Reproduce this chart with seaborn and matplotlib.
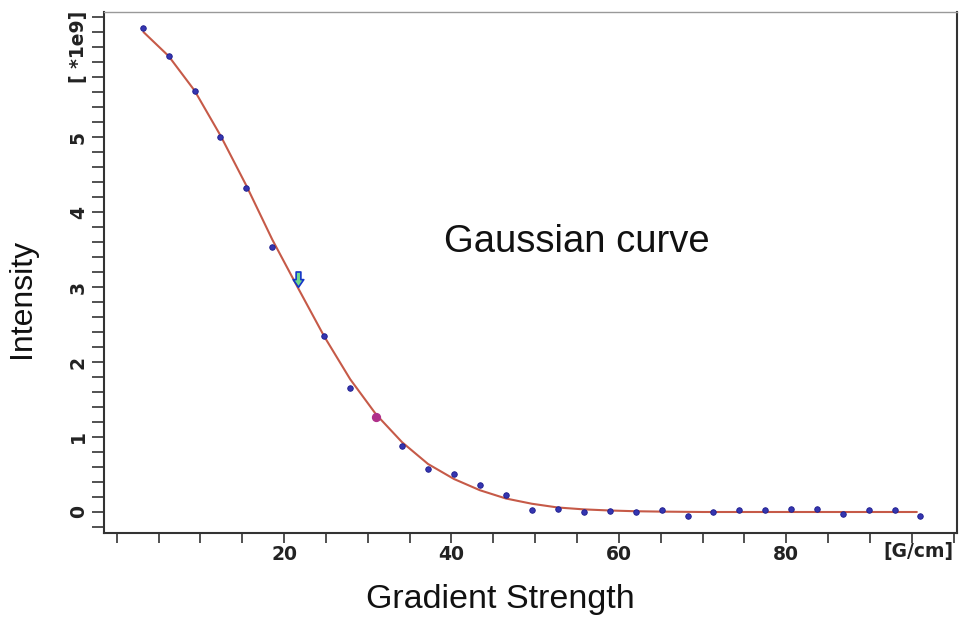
import numpy as np
import pandas as pd
import matplotlib
matplotlib.use("Agg")
import matplotlib.pyplot as plt
from matplotlib.path import Path
import seaborn as sns

# ---- data ----
gradient = [3.1, 6.2, 9.3, 12.4, 15.5, 18.6, 21.7, 24.8, 27.9, 31.0,
            34.1, 37.2, 40.3, 43.4, 46.5, 49.6, 52.7, 55.8, 58.9, 62.0,
            65.1, 68.2, 71.3, 74.3, 77.5, 80.6, 83.7, 86.8, 89.9, 93.0, 96.0]
intensity = [6.45, 6.08, 5.62, 5.00, 4.32, 3.54, 3.08, 2.35, 1.65, 1.27,
             0.88, 0.57, 0.51, 0.36, 0.23, 0.03, 0.04, 0.005, 0.01, 0.005,
             0.03, -0.05, 0.005, 0.03, 0.02, 0.04, 0.04, -0.03, 0.02, 0.03, -0.05]
fit_x = [3.2, 6.2, 9.3, 12.4, 15.5, 18.6, 21.7, 24.8, 27.9, 31.0,
         34.1, 37.2, 40.3, 43.4, 46.5, 49.6, 52.7, 55.8, 58.9, 62.0,
         65.1, 70.0, 80.0, 90.0, 95.6]
fit_y = [6.40, 6.08, 5.62, 5.02, 4.35, 3.63, 2.98, 2.34, 1.77, 1.30,
         0.93, 0.64, 0.44, 0.29, 0.18, 0.11, 0.06, 0.035, 0.02, 0.01,
         0.005, 0.0, 0.0, 0.0, 0.0]
highlight_x = [31.0]
highlight_y = [1.27]
cursor_x = [21.7]
cursor_y = [3.10]
x_major = [0, 20, 40, 60, 80, 100]
x_labels = ["", "20", "40", "60", "80", ""]
y_major = [0, 1, 2, 3, 4, 5, 6]
y_labels = ["0", "1", "2", "3", "4", "5", ""]

pts = pd.DataFrame({"x": gradient, "y": intensity})
fit = pd.DataFrame({"x": fit_x, "y": fit_y})

sns.set_theme(style="ticks")
plt.rcParams["font.family"] = ["Liberation Sans", "DejaVu Sans"]

fig = plt.figure(figsize=(9.6, 6.22), dpi=100)
ax = fig.add_axes([0.1083, 0.1431, 0.8886, 0.8376])

sns.lineplot(data=fit, x="x", y="y", ax=ax, color="#c65a48", lw=1.5,
             sort=False, estimator=None)
sns.scatterplot(data=pts, x="x", y="y", ax=ax, s=16, color="#3535b0",
                edgecolor="#1c1c8c", linewidth=0.6, zorder=3)
ax.scatter(highlight_x, highlight_y, s=32, color="#b0308a", zorder=4)

# cursor arrow
arrow = Path([(-0.28, 1.0), (0.28, 1.0), (0.28, 0.1), (0.62, 0.1), (0.0, -0.8),
              (-0.62, 0.1), (-0.28, 0.1), (-0.28, 1.0)],
             [Path.MOVETO] + [Path.LINETO] * 6 + [Path.CLOSEPOLY])
ax.scatter(cursor_x, cursor_y, marker=arrow, s=150, facecolor="#6fd98a",
           edgecolor="#1536c8", linewidth=1.2, zorder=5)

ax.set_xlim(-1.52, 100.4)
ax.set_ylim(-0.28, 6.667)

ax.set_xticks(x_major)
ax.set_xticklabels(x_labels)
ax.set_xticks(np.arange(0, 101, 5), minor=True)
ax.set_yticks(y_major)
ax.set_yticklabels(y_labels, rotation=90, va="center")
ax.set_yticks(np.arange(-0.2, 6.65, 0.2), minor=True)

tick_fs = 13.5
for lab in ax.get_xticklabels() + ax.get_yticklabels():
    lab.set_fontfamily("DejaVu Sans")
    lab.set_fontweight("bold")
    lab.set_fontsize(tick_fs)
    lab.set_color("#222222")

ax.tick_params(axis="both", which="both", direction="out", length=8.5,
               width=1.2, color="#333333")
ax.tick_params(axis="x", which="both", length=7.5)
ax.tick_params(axis="x", which="major", pad=1)
ax.tick_params(axis="y", which="major", pad=3)

for side in ["left", "bottom", "right"]:
    ax.spines[side].set_color("#333333")
    ax.spines[side].set_linewidth(1.5)
ax.spines["top"].set_color("#999999")
ax.spines["top"].set_linewidth(1.0)
ax.spines["right"].set_visible(True)
ax.spines["top"].set_visible(True)

ax.text(100.0, -0.017, "[G/cm]", ha="right", va="top", fontsize=tick_fs,
        fontweight="bold", family="DejaVu Sans", color="#222222",
        transform=ax.get_xaxis_transform(), clip_on=False)
ax.text(-0.03, 6.2, "[ *1e9]", ha="center", va="center", rotation=90,
        fontsize=tick_fs, fontweight="bold", family="DejaVu Sans", color="#222222",
        transform=ax.get_yaxis_transform(), clip_on=False)

ax.text(55.0, 3.6, "Gaussian curve", fontsize=27.5, ha="center", va="center",
        color="#111111")

ax.set_xlabel("Gradient Strength", fontsize=24.5, color="#111111")
ax.set_ylabel("Intensity", fontsize=23, color="#111111")
ax.xaxis.set_label_coords(0.465, -0.097)
ax.yaxis.set_label_coords(-0.078, 0.451)

fig.savefig("out.png", dpi=100)
